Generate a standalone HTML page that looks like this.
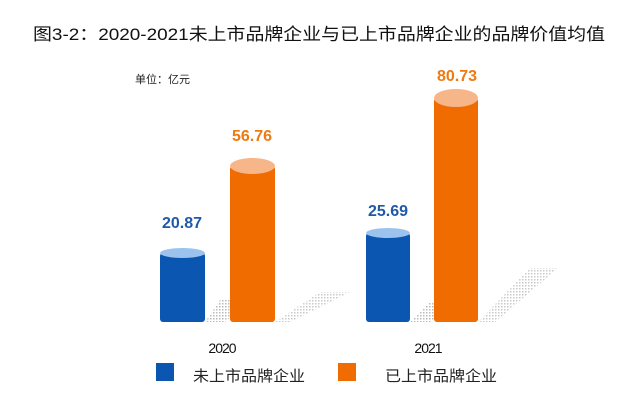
<!DOCTYPE html>
<html><head><meta charset="utf-8"><style>
body{margin:0;background:#fff;width:637px;height:403px;overflow:hidden}
text{font-family:"Liberation Sans","Noto Sans CJK SC",sans-serif}
</style></head><body>
<svg width="637" height="403" viewBox="0 0 637 403">
<defs><pattern id="d" width="3" height="3" patternUnits="userSpaceOnUse"><rect width="1.5" height="1.5" fill="#bbb"/></pattern></defs>
<text x="33" y="40" font-size="17" fill="#111" textLength="572" lengthAdjust="spacingAndGlyphs">图3-2：2020-2021未上市品牌企业与已上市品牌企业的品牌价值均值</text>
<text x="135" y="83" font-size="11" fill="#222">单位：亿元</text>
<!-- shadows -->
<polygon points="205,322 225,322 250,300 220,300" fill="url(#d)"/>
<polygon points="275,322 290,322 350,292 320,292" fill="url(#d)" opacity=".8"/>
<polygon points="410,322 430,322 460,302 430,302" fill="url(#d)"/>
<polygon points="478,322 495,322 558,268 530,268" fill="url(#d)" opacity=".8"/>
<!-- bars -->
<rect x="160" y="253" width="45" height="69" rx="3" fill="#0b56b0"/>
<ellipse cx="182.5" cy="253" rx="22.5" ry="5" fill="#9cc3ee"/>
<rect x="230" y="166" width="45" height="156" rx="3" fill="#f06c00"/>
<ellipse cx="252.5" cy="166" rx="22.5" ry="8" fill="#f7b58a"/>
<rect x="366" y="233" width="44" height="89" rx="3" fill="#0b56b0"/>
<ellipse cx="388" cy="233" rx="22" ry="5" fill="#9cc3ee"/>
<rect x="434" y="98" width="44" height="224" rx="3" fill="#f06c00"/>
<ellipse cx="456" cy="98" rx="22" ry="9" fill="#f7b58a"/>
<g font-weight="bold" font-size="16" text-anchor="middle">
<text x="182" y="228" fill="#1f5aa8">20.87</text>
<text x="252" y="141" fill="#ee7a12">56.76</text>
<text x="388" y="216" fill="#1f5aa8">25.69</text>
<text x="457" y="81" fill="#ee7a12">80.73</text>
</g>
<text x="222" y="353" font-size="14" text-anchor="middle" fill="#111" letter-spacing="-1">2020</text>
<text x="428" y="353" font-size="14" text-anchor="middle" fill="#111" letter-spacing="-1">2021</text>
<rect x="156" y="363" width="18" height="18" fill="#0b56b0"/>
<text x="193" y="381" font-size="15" fill="#222" textLength="112" lengthAdjust="spacingAndGlyphs">未上市品牌企业</text>
<rect x="338" y="363" width="18" height="18" fill="#f06c00"/>
<text x="385" y="381" font-size="15" fill="#222" textLength="112" lengthAdjust="spacingAndGlyphs">已上市品牌企业</text>
</svg>
</body></html>
